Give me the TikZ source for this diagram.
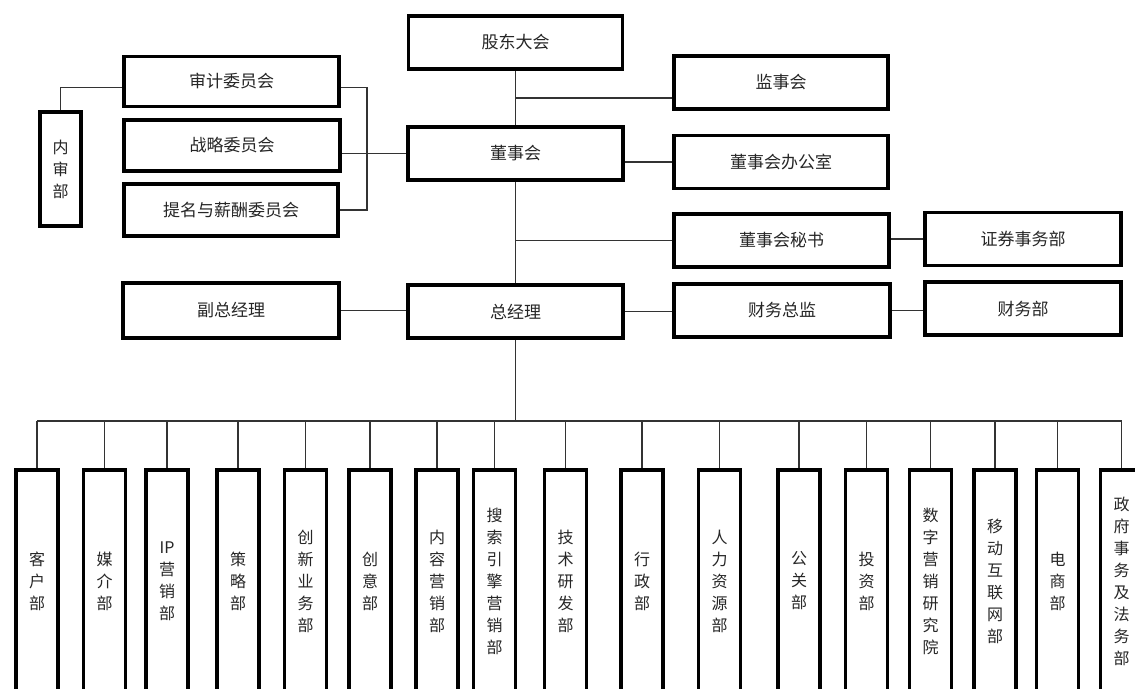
\documentclass[tikz,border=0pt]{standalone}
\usepackage{fontspec}
\newfontfamily\cjk{Noto Sans CJK SC}
\begin{document}
\begin{tikzpicture}[x=1pt,y=-1pt,
  box/.style={draw=black, line width=3.5pt, fill=white, inner sep=0pt,
    font=\cjk\fontsize{17}{20}\selectfont, text=black!85},
  wbox/.style={box, minimum width=#1, minimum height=53pt},
  dept/.style={box, minimum width=42pt, minimum height=222pt, align=center,
    font=\cjk\fontsize{16}{22}\selectfont},
  conn/.style={line width=1.2pt, draw=black!80}]
\useasboundingbox (0,0) rectangle (1135,688);
% top level
\node[wbox=214pt] (gd) at (515.5,42.5) {股东大会};
\node[wbox=214pt] (jsh) at (781,82.5) {监事会};
\node[wbox=215pt] (dsh) at (515.5,153.5) {董事会};
\node[wbox=214pt] (dsb) at (781,162) {董事会办公室};
\node[wbox=215pt] (dsms) at (781.5,240.5) {董事会秘书};
\node[wbox=196pt] (zq) at (1023,239) {证券事务部};
\node[wbox=216pt] (cwzj) at (782,310.5) {财务总监};
\node[wbox=196pt] (cwb) at (1023,308.5) {财务部};
\node[wbox=215pt] (zjl) at (515.5,311.5) {总经理};
\node[wbox=216pt, minimum height=55pt] (fzjl) at (231,310.5) {副总经理};
% committees
\node[wbox=215pt, minimum height=50pt] (sj) at (231.5,81.5) {审计委员会};
\node[wbox=216pt, minimum height=51pt] (zl) at (232,145.5) {战略委员会};
\node[wbox=214pt, minimum height=52pt] (tm) at (231,210) {提名与薪酬委员会};
\node[box, minimum width=41pt, minimum height=114pt, align=center,
  font=\cjk\fontsize{16}{22}\selectfont] (nsb) at (60.5,169) {内\\审\\部};
% departments
\node[dept] (d1) at (37,581) {客\\户\\部};
\node[dept] (d2) at (104.5,581) {媒\\介\\部};
\node[dept] (d3) at (167,581) {IP\\营\\销\\部};
\node[dept] (d4) at (238,581) {策\\略\\部};
\node[dept] (d5) at (305.5,581) {创\\新\\业\\务\\部};
\node[dept] (d6) at (370,581) {创\\意\\部};
\node[dept] (d7) at (437,581) {内\\容\\营\\销\\部};
\node[dept] (d8) at (494.5,581) {搜\\索\\引\\擎\\营\\销\\部};
\node[dept] (d9) at (565.5,581) {技\\术\\研\\发\\部};
\node[dept] (d10) at (642,581) {行\\政\\部};
\node[dept] (d11) at (719.5,581) {人\\力\\资\\源\\部};
\node[dept] (d12) at (799,581) {公\\关\\部};
\node[dept] (d13) at (866.5,581) {投\\资\\部};
\node[dept] (d14) at (930.5,581) {数\\字\\营\\销\\研\\究\\院};
\node[dept] (d15) at (995,581) {移\\动\\互\\联\\网\\部};
\node[dept] (d16) at (1057.5,581) {电\\商\\部};
\node[dept] (d17) at (1121.5,581) {政\\府\\事\\务\\及\\法\\务\\部};
% connectors
\coordinate (j1) at (515.5,98);
\draw[conn] (gd.south) -- (dsh.north);
\draw[conn] (j1) -- (j1 -| jsh.west);
\draw[conn] (dsh.east |- dsb.west) -- (dsb.west);
\draw[conn] (dsh.south) -- (zjl.north);
\draw[conn] (dsh.south |- dsms.west) -- (dsms.west);
\draw[conn] (dsms.east |- zq.west) -- (zq.west);
\draw[conn] (fzjl.east) -- (zjl.west |- fzjl.east);
\draw[conn] (zjl.east) -- (cwzj.west |- zjl.east);
\draw[conn] (cwzj.east) -- (cwb.west |- cwzj.east);
\coordinate (brk) at (367,0);
\draw[conn] (nsb.north) |- ([yshift=-6pt]sj.west);
\draw[conn] ([yshift=-6pt]sj.east) -| (brk |- tm.east) -- (tm.east);
\draw[conn] (zl.east |- dsh.west) -- (dsh.west);
\coordinate (bus) at (0,421);
\draw[conn] (zjl.south) -- (zjl.south |- bus);
\draw[conn] (d1.north |- bus) -- (d17.north |- bus);
\foreach \i in {1,...,17} {\draw[conn] (d\i.north |- bus) -- (d\i.north);}
\end{tikzpicture}
\end{document}
